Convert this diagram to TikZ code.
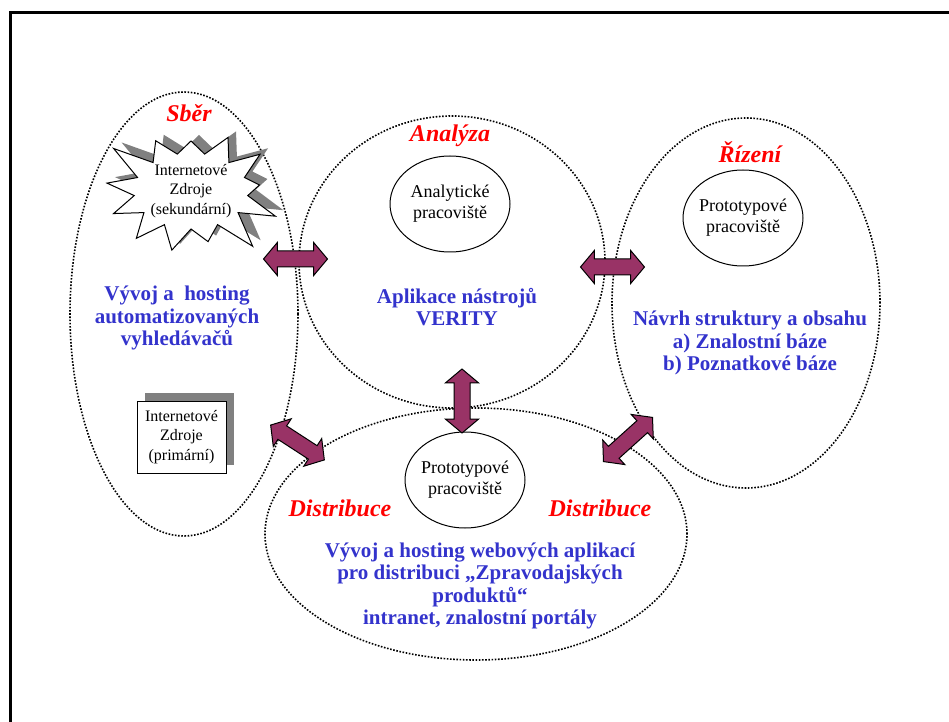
\documentclass[tikz,border=0pt]{standalone}
\usepackage{fontspec}
\setmainfont{Liberation Serif}
\usetikzlibrary{shapes.geometric, shapes.arrows, shapes.symbols, shadows}

\definecolor{plum}{RGB}{153,51,102}
\definecolor{titlered}{RGB}{255,0,0}
\definecolor{topicblue}{RGB}{51,51,204}

\newcommand{\inbox}[1]{\makebox[30pt]{#1}}

\tikzstyle{frame} = [line width=1.5pt, line join=miter]
\tikzstyle{zone} = [
	ellipse,
	draw=black,
	line width=0.8pt,
	dash pattern=on 0.8pt off 0.8pt,
	inner sep=0pt
]
\tikzstyle{place} = [
	ellipse,
	draw=black,
	fill=white,
	line width=0.5pt,
	minimum width=60pt,
	minimum height=48pt,
	inner sep=0pt,
	align=center,
	font=\fontsize{9}{10.5}\selectfont
]
\tikzstyle{source} = [
	rectangle,
	draw=black,
	fill=white,
	line width=0.5pt,
	minimum width=44.5pt,
	minimum height=36pt,
	inner sep=1pt,
	align=center,
	font=\fontsize{8}{9.8}\selectfont,
	drop shadow={shadow xshift=4pt, shadow yshift=4pt, fill=black!50, opacity=1}
]
\tikzstyle{burst} = [
	starburst,
	starburst points=13,
	starburst point height=19pt,
	random starburst=3,
	draw=black,
	fill=white,
	line width=0.5pt,
	minimum width=90pt,
	minimum height=76pt,
	inner sep=0pt,
	align=center,
	font=\fontsize{8}{9.8}\selectfont,
	drop shadow={shadow xshift=4pt, shadow yshift=3pt, fill=black!50, opacity=1}
]
\tikzstyle{title} = [
	text=titlered,
	font=\fontsize{12}{13}\selectfont\bfseries\itshape
]
\tikzstyle{topic} = [
	text=topicblue,
	align=center,
	font=\fontsize{10.5}{11.3}\selectfont\bfseries
]
\tikzstyle{link} = [
	double arrow,
	draw=black,
	fill=plum,
	line width=0.5pt,
	inner sep=3.75pt,
	double arrow head extend=4.25pt,
	double arrow tip angle=100,
	minimum height=32pt
]

\begin{document}
\begin{tikzpicture}[x=0.5pt, y=-0.5pt]
		\useasboundingbox (0,0) rectangle (949,722);
		\draw [frame] (10,722) -- (10,13) -- (949,13);

		% the four areas
		\node (sberzone) [zone, minimum width=114pt, minimum height=222pt] at (184,314) {};
		\node (analyzazone) [zone, minimum width=153pt, minimum height=146pt] at (452,262) {};
		\node (rizenizone) [zone, minimum width=134pt, minimum height=185pt] at (746,303) {};
		\node (distribucezone) [zone, minimum width=211pt, minimum height=126pt] at (476,534) {};

		\node (sekundarni) [burst] at (191,191) {Internetové\\Zdroje\\(sekundární)};
		\node (primarni) [source] at (181.5,437) {Internetové\\Zdroje\\(primární)};

		\node (sbertitle) [title] at (189,113) {Sběr};
		\node (analyzatitle) [title] at (450,136) {Analýza};
		\node (rizenititle) [title] at (750,152) {Řízení};
		\node (distribuceleft) [title] at (340,508) {Distribuce};
		\node (distribuceright) [title] at (600,508) {Distribuce};

		\node (analyticke) [place] at (450,204) {\inbox{Analytické}\\\inbox{pracoviště}};
		\node (prototypr) [place] at (743,218) {\inbox{Prototypové}\\\inbox{pracoviště}};
		\node (prototypd) [place] at (465,480) {\inbox{Prototypové}\\\inbox{pracoviště}};

		\node (sbertext) [topic] at (177,318) {Vývoj a~ hosting\\automatizovaných\\vyhledávačů};
		\node (analyzatext) [topic] at (457,307) {Aplikace nástrojů\\VERITY};
		\node (rizenitext) [topic] at (750,343) {Návrh struktury a obsahu\\a) Znalostní báze\\b) Poznatkové báze};
		\node (distribucetext) [topic] at (480,586) {Vývoj a hosting webových aplikací\\pro distribuci „Zpravodajských\\produktů“\\intranet, znalostní portály};

		% links between areas
		\node (sberanalyza) [link] at (295.5,259) {};
		\node (analyzarizeni) [link] at (612.5,267) {};
		\node (analyzadistribuce) [link, rotate=90] at (462,401) {};
		\node (sberdistribuce) [link, rotate=-33] at (297.5,442.5) {};
		\node (rizenidistribuce) [link, rotate=42, minimum height=33pt] at (628,439.5) {};
	\end{tikzpicture}
\end{document}
